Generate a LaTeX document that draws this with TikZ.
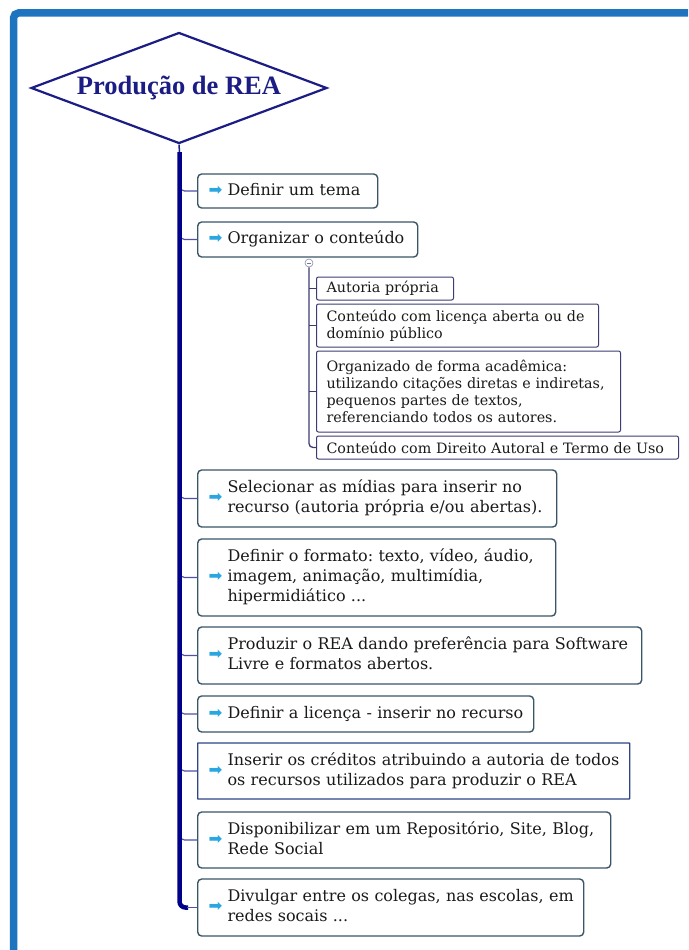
\documentclass[tikz,border=0pt]{standalone}
\usepackage{fontspec}
\setmainfont{DejaVu Serif}
\newfontfamily\titlefont{Liberation Serif}
\newfontfamily\symfont{DejaVu Sans}
\usetikzlibrary{shapes.geometric}
\frenchspacing

\definecolor{frameblue}{HTML}{1F74BF}
\definecolor{navy}{HTML}{1C1C85}
\definecolor{trunkblue}{HTML}{00008B}
\definecolor{branchcol}{HTML}{5050A8}
\definecolor{boxedge}{HTML}{3A5566}
\definecolor{subedge}{HTML}{3C3C74}
\definecolor{arrowblue}{HTML}{2AA7E1}
\definecolor{txt}{HTML}{1A1A1A}

\newcommand{\arrowmark}{{\symfont\fontsize{16.5}{16}\selectfont\textcolor{arrowblue}{➡}}}
\newcommand{\mainlines}[1]{\arrowmark\kern5pt\begin{tabular}[c]{@{}l@{}}#1\end{tabular}}

\begin{document}
\begin{tikzpicture}
[
x=1pt, y=-1pt,
every node/.style={text=txt},
topic/.style={diamond, draw=navy, line width=2.2pt, aspect=2.67, inner sep=0pt,
  minimum width=296pt, minimum height=111pt, text=navy,
  font=\titlefont\bfseries\fontsize{26.5}{30}\selectfont},
mainbox/.style={draw=boxedge, line width=1.4pt, rounded corners=4pt, fill=white,
  anchor=west, inner xsep=11pt, inner ysep=0pt, align=left,
  font=\fontsize{16}{20}\selectfont},
subbox/.style={draw=subedge, line width=1pt, rounded corners=2pt, fill=white,
  anchor=west, inner xsep=10pt, inner ysep=0pt, align=left,
  font=\fontsize{14.3}{17}\selectfont},
trunk/.style={draw=trunkblue, line width=4.5pt},
branch/.style={draw=branchcol, line width=1.2pt},
subline/.style={draw=subedge, line width=1.3pt}
]
\useasboundingbox (0,0) rectangle (688,950);
\fill[white] (0,0) rectangle (688,950);
\clip (0,0) rectangle (688,950);

% outer frame
\draw[frameblue, line width=7.5pt, rounded corners=5pt] (13.5,13) rectangle (720,990);

% main topic
\node[topic] (topic) at (179,88) {Produção de REA};

% main steps
\node[mainbox, text width=158pt, minimum height=34pt] (tema) at (197,191) {\mainlines{Definir um tema}};
\node[mainbox, text width=198pt, minimum height=35pt] (conteudo) at (197,239.5) {\mainlines{Organizar o conteúdo}};
\node[mainbox, text width=337pt, minimum height=57pt] (midias) at (197,498.5)
  {\mainlines{Selecionar as mídias para inserir no\\recurso (autoria própria e/ou abertas).}};
\node[mainbox, text width=336pt, minimum height=77pt] (formato) at (197,577.5)
  {\mainlines{Definir o formato: texto, vídeo, áudio,\\imagem, animação, multimídia,\\hipermidiático ...}};
\node[mainbox, text width=422pt, minimum height=57pt] (produzir) at (197,655.5)
  {\mainlines{Produzir o REA dando preferência para Software\\Livre e formatos abertos.}};
\node[mainbox, text width=314pt, minimum height=36pt] (licenca) at (197,714) {\mainlines{Definir a licença - inserir no recurso}};
\node[mainbox, text width=410pt, minimum height=56pt, rounded corners=0.5pt, draw=boxedge!80!blue] (creditos) at (197,771)
  {\mainlines{Inserir os créditos atribuindo a autoria de todos\\os recursos utilizados para produzir o REA}};
\node[mainbox, text width=391pt, minimum height=56pt] (repositorio) at (197,840)
  {\mainlines{Disponibilizar em um Repositório, Site, Blog,\\Rede Social}};
\node[mainbox, text width=364pt, minimum height=57pt] (divulgar) at (197,907.5)
  {\mainlines{Divulgar entre os colegas, nas escolas, em\\redes socais ...}};

% sub items of conteudo
\node[subbox, text width=117pt, minimum height=23pt] (autoria) at (316,288.5) {Autoria própria};
\node[subbox, text width=262pt, minimum height=43pt] (aberta) at (316,325.5)
  {Conteúdo com licença aberta ou de\\domínio público};
\node[subbox, text width=284pt, minimum height=81pt] (academica) at (316,391.5)
  {Organizado de forma acadêmica:\\utilizando citações diretas e indiretas,\\pequenos partes de textos,\\referenciando todos os autores.};
\node[subbox, text width=342pt, minimum height=23pt] (direito) at (316,447.5)
  {\mbox{Conteúdo com Direito Autoral e Termo de Uso}};

% connectors
\coordinate (ttop) at (179.5,152);
\foreach \b in {tema,conteudo,midias,formato,produzir,licenca,creditos,repositorio}
  \draw[branch, rounded corners=5pt] (\b.west -| ttop) ++(0,-7) |- (\b.west);
\draw[navy, line width=1.5pt] (topic.south) -- (ttop);
\draw[trunk, rounded corners=6pt] (ttop) |- ([xshift=-9pt]divulgar.west);
\draw[branch] ([xshift=-10pt]divulgar.west) -- (divulgar.west);

\node[circle, draw=subedge!60, fill=white, line width=0.6pt, minimum size=8pt, inner sep=0pt] (fold) at (309,263) {};
\draw[subedge!70, line width=0.6pt] ([xshift=-2pt]fold.center) -- ([xshift=2pt]fold.center);
\draw[subline, rounded corners=4pt] (fold.south) |- (direito.west);
\foreach \s in {autoria,aberta,academica}
  \draw[subline, line width=1pt] (\s.west -| fold) -- (\s.west);
\end{tikzpicture}
\end{document}
